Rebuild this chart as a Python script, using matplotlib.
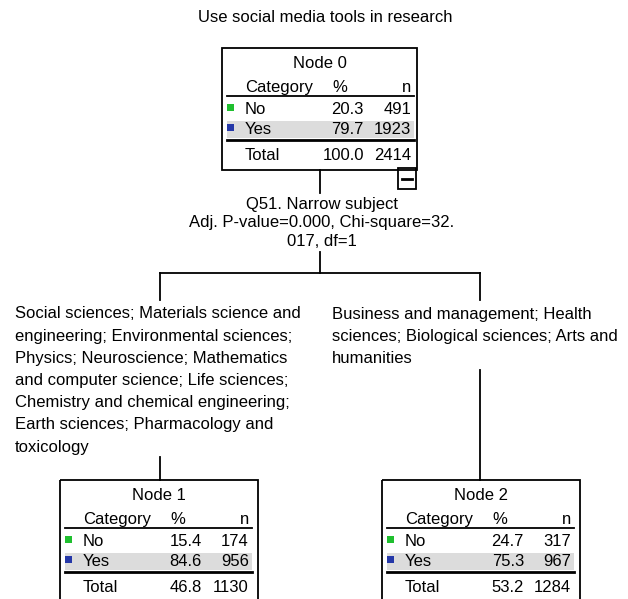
import matplotlib.pyplot as plt
from matplotlib.patches import Rectangle

plt.rcParams['font.family'] = ['Liberation Sans', 'DejaVu Sans']

# data
title = 'Use social media tools in research'
categories = ['No', 'Yes']
cat_colors = ['#1fbf2f', '#2538a8']
node_names = ['Node 0', 'Node 1', 'Node 2']
node_pct = [[20.3, 79.7], [15.4, 84.6], [24.7, 75.3]]
node_n = [[491, 1923], [174, 956], [317, 967]]
node_total_pct = [100.0, 46.8, 53.2]
node_total_n = [2414, 1130, 1284]
split_text = ['Q51. Narrow subject', 'Adj. P-value=0.000, Chi-square=32.', '017, df=1']
left_branch = ['Social sciences; Materials science and',
               'engineering; Environmental sciences;',
               'Physics; Neuroscience; Mathematics',
               'and computer science; Life sciences;',
               'Chemistry and chemical engineering;',
               'Earth sciences; Pharmacology and',
               'toxicology']
right_branch = ['Business and management; Health',
                'sciences; Biological sciences; Arts and',
                'humanities']

fig = plt.figure(figsize=(6.28, 5.99), dpi=100)
ax = fig.add_axes([0, 0, 1, 1])
ax.set_xlim(0, 628)
ax.set_ylim(599, 0)
ax.axis('off')

fs = 12
ax.text(325, 17, title, ha='center', va='center', fontsize=fs)


def draw_node(i, x0, y0, w=195, h=122):
    ax.add_patch(Rectangle((x0, y0), w, h, fill=False, ec='black', lw=1.3))
    ax.text(x0 + w / 2, y0 + 16, node_names[i], ha='center', va='center', fontsize=fs)
    ax.text(x0 + 23, y0 + 44, 'Category', ha='left', va='baseline', fontsize=fs)
    ax.text(x0 + 118, y0 + 44, '%', ha='center', va='baseline', fontsize=fs)
    ax.text(x0 + 189, y0 + 44, 'n', ha='right', va='baseline', fontsize=fs)
    ax.plot([x0 + 5, x0 + 192], [y0 + 48, y0 + 48], color='black', lw=1.3)
    ax.add_patch(Rectangle((x0 + 5, y0 + 73), 187, 17, color='#dcdcdc', lw=0))
    for k, cat in enumerate(categories):
        yy = y0 + 62 + 20 * k
        ax.add_patch(Rectangle((x0 + 5, yy - 6), 7, 7, color=cat_colors[k], lw=0))
        ax.text(x0 + 23, yy, cat, ha='left', va='center', fontsize=fs)
        ax.text(x0 + 142, yy, f'{node_pct[i][k]:.1f}', ha='right', va='center', fontsize=fs)
        ax.text(x0 + 189, yy, str(node_n[i][k]), ha='right', va='center', fontsize=fs)
    ax.plot([x0 + 5, x0 + 192], [y0 + 92, y0 + 92], color='black', lw=2)
    ax.text(x0 + 23, y0 + 107, 'Total', ha='left', va='center', fontsize=fs)
    ax.text(x0 + 142, y0 + 107, f'{node_total_pct[i]:.1f}', ha='right', va='center', fontsize=fs)
    ax.text(x0 + 189, y0 + 107, str(node_total_n[i]), ha='right', va='center', fontsize=fs)


draw_node(0, 222, 48)
draw_node(1, 60, 480, w=198)
draw_node(2, 382, 480, w=198)

# collapse box
ax.add_patch(Rectangle((398, 168), 18, 21, fill=False, ec='black', lw=1.3))
ax.plot([402, 412], [179, 179], color='black', lw=2)

# connectors
ax.plot([320, 320], [170, 193], color='black', lw=1.3)
for y, line in zip([205, 222, 242], split_text):
    ax.text(322, y, line, ha='center', va='center', fontsize=fs)
ax.plot([320, 320], [252, 273], color='black', lw=1.3)
ax.plot([160, 480], [273, 273], color='black', lw=1.3)
ax.plot([160, 160], [273, 300], color='black', lw=1.3)
ax.plot([480, 480], [273, 300], color='black', lw=1.3)

for j, line in enumerate(left_branch):
    ax.text(15, 314 + 22.2 * j, line, ha='left', va='center', fontsize=fs)
for j, line in enumerate(right_branch):
    ax.text(332, 314 + 22.2 * j, line, ha='left', va='center', fontsize=fs)

ax.plot([160, 160], [457, 480], color='black', lw=1.3)
ax.plot([480, 480], [370, 480], color='black', lw=1.3)

fig.savefig('out.png', dpi=100)
